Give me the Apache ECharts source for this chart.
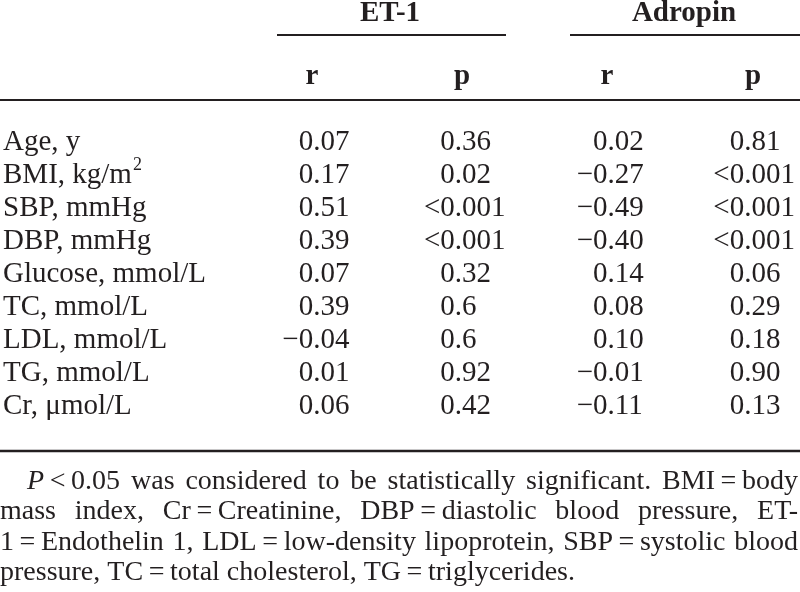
<!DOCTYPE html>
<html><head><meta charset="utf-8">
<script src="https://cdn.jsdelivr.net/npm/echarts@6/dist/echarts.min.js"></script>
<style>html,body{margin:0;padding:0;background:#fff}#c{width:800px;height:592px}</style>
</head><body><div id="c"></div>
<script>
// ---- data ----
const rowLabels = ['Age, y','BMI, kg/m²','SBP, mmHg','DBP, mmHg','Glucose, mmol/L','TC, mmol/L','LDL, mmol/L','TG, mmol/L','Cr, μmol/L'];
const groupHeaders = ['ET-1','Adropin'];
const subHeaders = ['r','p','r','p'];
const et1R = [0.07,0.17,0.51,0.39,0.07,0.39,-0.04,0.01,0.06];
const et1P = ['0.36','0.02','<0.001','<0.001','0.32','0.6','0.6','0.92','0.42'];
const adropinR = [0.02,-0.27,-0.49,-0.40,0.14,0.08,0.10,-0.01,-0.11];
const adropinP = ['0.81','<0.001','<0.001','<0.001','0.06','0.29','0.18','0.90','0.13'];
const footnoteLines = [
  '*P*\u2009<\u20090.05 was considered to be statistically significant. BMI\u2009=\u2009body',
  'mass index, Cr\u2009=\u2009Creatinine, DBP\u2009=\u2009diastolic blood pressure, ET-',
  '1\u2009=\u2009Endothelin 1, LDL\u2009=\u2009low-density lipoprotein, SBP\u2009=\u2009systolic blood',
  'pressure, TC\u2009=\u2009total cholesterol, TG\u2009=\u2009triglycerides.'
];

// ---- layout ----
const FONT = '"Liberation Serif","Times New Roman",serif';
const FS = 29;
const FS_NOTE = 28;
const INK = '#231f20';
const colAnchors = [312, 454, 607, 744];   // decimal point positions
const subHeaderX = [312, 462, 607, 753];
const groupX = [390, 684];
const groupRules = [[277, 506], [570, 800]];
const justify = [true, true, true, false];
const indent = [27, 0, 0, 0];
const footY = [482, 512, 543, 573];
const lineRight = 798;

const fmtR = v => (v < 0 ? '\u2212' : '') + Math.abs(v).toFixed(2);
const fmtP = s => s;
const columns = [et1R.map(fmtR), et1P.map(fmtP), adropinR.map(fmtR), adropinP.map(fmtP)];

const cellData = [], cellText = [];
columns.forEach((col, c) => col.forEach((t, r) => {
  cellData.push([colAnchors[c], r]);
  cellText.push(t);
}));

const txt = (x, y, text, opts) => ({
  type: 'text', x, y,
  style: Object.assign({text, fill: INK, fontSize: FS, fontFamily: FONT, align: 'center', verticalAlign: 'middle'}, opts || {})
});

const graphics = [];
groupHeaders.forEach((h, i) => graphics.push(txt(groupX[i], 14, h, {fontWeight: 'bold'})));
subHeaders.forEach((h, i) => graphics.push(txt(subHeaderX[i], 77, h, {fontWeight: 'bold'})));
const line = (x1, y, x2, lw) => ({type: 'line', shape: {x1, y1: y, x2, y2: y}, style: {stroke: INK, lineWidth: lw}});
groupRules.forEach(r => graphics.push(line(r[0], 35, r[1], 2)));
graphics.push(line(0, 100, 800, 2));
graphics.push(line(0, 451, 800, 2.4));

// footnote, justified
const ctx = document.createElement('canvas').getContext('2d');
const measure = (t, it) => { ctx.font = (it ? 'italic ' : '') + FS_NOTE + 'px ' + FONT; return ctx.measureText(t).width; };
footnoteLines.forEach((ln, li) => {
  const words = ln.split(' ').map(w => {
    const segs = [];
    w.split(/(\*[^*]+\*)/).forEach(p => {
      if (!p) return;
      if (p[0] === '*') segs.push({t: p.slice(1, -1), it: true});
      else segs.push({t: p, it: false});
    });
    segs.forEach(s => s.w = measure(s.t, s.it));
    return {segs, w: segs.reduce((a, s) => a + s.w, 0)};
  });
  const total = words.reduce((a, w) => a + w.w, 0);
  const gap = justify[li] ? (lineRight - indent[li] - total) / (words.length - 1) : measure(' ', false);
  let x = indent[li];
  words.forEach(w => {
    let sx = x;
    w.segs.forEach(s => {
      graphics.push(txt(sx, footY[li], s.t, {align: 'left', fontSize: FS_NOTE, fontStyle: s.it ? 'italic' : 'normal'}));
      sx += s.w;
    });
    x += w.w + gap;
  });
});

const chart = echarts.init(document.getElementById('c'), null, {renderer: 'canvas'});
chart.setOption({
  animation: false,
  backgroundColor: '#fff',
  grid: {left: 0, right: 0, top: 125.5, height: 297},
  xAxis: {type: 'value', min: 0, max: 800, show: false},
  yAxis: {
    type: 'category', data: rowLabels, inverse: true,
    axisLine: {show: false}, axisTick: {show: false}, splitLine: {show: false},
    axisLabel: {
      inside: true, margin: 1, interval: 0, color: INK, fontSize: FS, fontFamily: FONT,
      formatter: v => '{a|' + v.replace('²', '}{s|2}') + (v.indexOf('²') >= 0 ? '' : '}'),
      rich: {
        a: {fontSize: FS, fontFamily: FONT, color: INK},
        s: {fontSize: 18, fontFamily: FONT, color: INK, padding: [0, 0, 20, 1]}
      }
    }
  },
  series: [{
    type: 'custom',
    coordinateSystem: 'cartesian2d',
    data: cellData,
    encode: {x: 0, y: 1},
    renderItem: (params, api) => {
      const pt = api.coord([api.value(0), api.value(1)]);
      const t = cellText[params.dataIndex];
      const i = t.indexOf('.');
      return {type: 'group', children: [
        txt(pt[0], pt[1], t.slice(0, i), {align: 'right'}),
        txt(pt[0], pt[1], t.slice(i), {align: 'left'})
      ]};
    }
  }],
  graphic: graphics
});
</script>
</body></html>
